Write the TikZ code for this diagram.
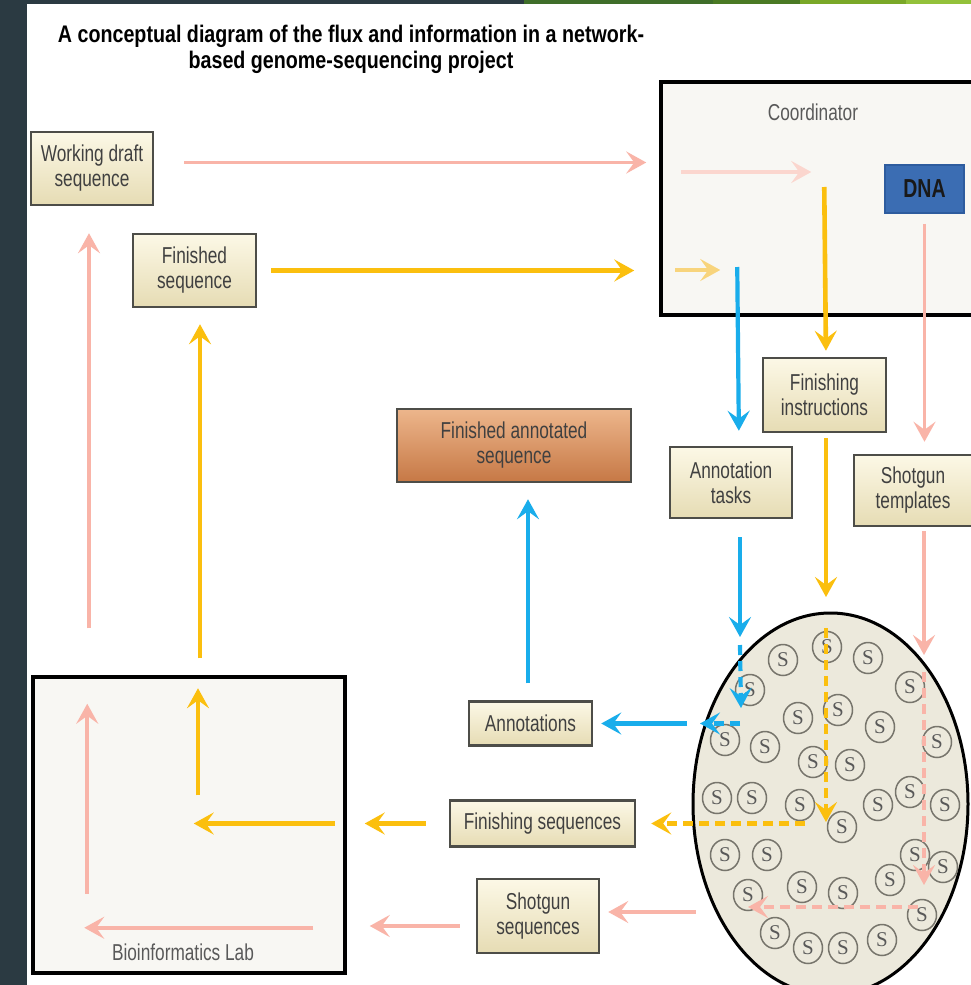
\documentclass[tikz,border=0pt]{standalone}
\usepackage{fontspec}
\setmainfont{Liberation Sans}
\newfontfamily\narrowsans[FakeStretch=0.75]{Liberation Sans}
\newfontfamily\titlesans[FakeStretch=0.82]{Liberation Sans}
\newfontfamily\seedserif{Liberation Serif}
\usetikzlibrary{arrows.meta,shapes.geometric,calc}

\definecolor{slate}{HTML}{2B3A42}
\definecolor{leafA}{HTML}{3F6E2A}
\definecolor{leafB}{HTML}{4A7A24}
\definecolor{leafC}{HTML}{7AA828}
\definecolor{leafD}{HTML}{93C13A}
\definecolor{pinkline}{HTML}{F9B4A8}
\definecolor{yellowline}{HTML}{FBBF0E}
\definecolor{blueline}{HTML}{19ADEB}
\definecolor{palepink}{HTML}{FBD6CE}
\definecolor{paleyellow}{HTML}{F8D47C}
\definecolor{boxtop}{HTML}{FCF8E6}
\definecolor{boxbot}{HTML}{E6DCB4}
\definecolor{boxedge}{HTML}{4D4D48}
\definecolor{labfill}{HTML}{F8F7F3}
\definecolor{dishfill}{HTML}{ECE9DC}
\definecolor{seedring}{HTML}{77756C}
\definecolor{dnafill}{HTML}{3B6DB3}
\definecolor{dnaedge}{HTML}{2E5C9E}
\definecolor{annottop}{HTML}{EDB68C}
\definecolor{annotbot}{HTML}{C67845}

\tikzset{
  seqbox/.style={draw=boxedge,line width=2.5pt,top color=boxtop,bottom color=boxbot,
    text=black!75,align=center,inner sep=0pt,font=\narrowsans\fontsize{23}{25}\selectfont},
  labbox/.style={draw=black,line width=3.5pt,fill=labfill,inner sep=0pt},
  boxname/.style={text=black!65,font=\narrowsans\fontsize{23}{25}\selectfont},
  seed/.style={ellipse,draw=seedring,line width=1.5pt,minimum width=29pt,minimum height=31pt,inner sep=0pt,
    text=black!65,font=\seedserif\fontsize{21}{21}\selectfont},
  flow/.style={line width=#1,-{Stealth[length=20pt,width=22pt,inset=8pt]}},
  pinkarr/.style={flow=3.8pt,draw=pinkline},
  yelarr/.style={flow=4.6pt,draw=yellowline},
  bluearr/.style={flow=4.2pt,draw=blueline},
  palepinkarr/.style={flow=4pt,draw=palepink},
  paleyelarr/.style={flow=4.6pt,draw=paleyellow},
  dashed/.style={dash pattern=on 10pt off 6pt}
}

\begin{document}
\begin{tikzpicture}[x=1pt,y=-1pt]
\useasboundingbox[fill=white] (0,0) rectangle (971,985);
\fill[slate] (0,0) rectangle (27,985);
\fill[slate] (27,0) rectangle (524,4);
\fill[leafA] (524,0) rectangle (713,4);
\fill[leafB] (713,0) rectangle (800,4);
\fill[leafC] (800,0) rectangle (906,4);
\fill[leafD] (906,0) rectangle (971,4);

\node[align=center,font=\titlesans\bfseries\fontsize{24}{26}\selectfont] (title) at (351,49)
  {A conceptual diagram of the flux and information in a network-\\based genome-sequencing project};

\node[seqbox,minimum width=122,minimum height=73] (draft) at (92,168.5) {Working draft\\sequence};
\node[seqbox,minimum width=123,minimum height=73] (finished) at (194.5,270.5) {Finished\\sequence};

\node[labbox,minimum width=319,minimum height=233] (coordinator) at (820.5,198.5) {};
\node[boxname] (coordname) at (813,112) {Coordinator};
\node[draw=dnaedge,line width=1.5pt,fill=dnafill,minimum width=79,minimum height=48,
  text=black!90,font=\narrowsans\bfseries\fontsize{26}{26}\selectfont] (dna) at (924.5,189) {DNA};

\node[seqbox,minimum width=123,minimum height=74] (instr) at (824.5,395) {Finishing\\instructions};
\node[seqbox,minimum width=122,minimum height=71] (tasks) at (731,482.5) {Annotation\\tasks};
\node[seqbox,minimum width=118,minimum height=71] (templates) at (913,490.5) {Shotgun\\templates};
\node[seqbox,top color=annottop,bottom color=annotbot,minimum width=234,minimum height=73] (annotated) at (514,445.5) {Finished annotated\\sequence};

\node[seqbox,minimum width=123,minimum height=44] (annots) at (530.5,723.5) {Annotations};
\node[seqbox,minimum width=185,minimum height=46] (finseqs) at (542.5,823.5) {Finishing sequences};
\node[seqbox,minimum width=122,minimum height=74] (shotseqs) at (538,916) {Shotgun\\sequences};

\node[labbox,minimum width=312,minimum height=296] (lab) at (189,825) {};
\node[boxname] (labname) at (183,952) {Bioinformatics Lab};

\node[ellipse,draw=black,line width=3pt,fill=dishfill,minimum width=275,minimum height=382,inner sep=0pt] (dish) at (830.5,804) {};
\foreach \sx/\sy [count=\i] in {783/660,827/647,868/658,910/687,750/690,798/718,838/710,880/727,
  937/742,725/740,765/747,813/762,850/765,717/798,752/798,800/805,878/805,910/792,945/805,
  842/827,725/855,767/855,915/855,943/867,890/880,802/887,843/893,748/895,922/915,775/933,
  808/948,843/948,882/940}
  \node[seed] (s\i) at (\sx,\sy) {S};

\coordinate (pinkx) at ($(draft.south)+(-3,0)$);
\coordinate (bluein) at (740,637);
\coordinate (yelin) at (826,597);
\coordinate (pinkin) at (924,655);

\draw[pinkarr,shorten <=30pt,shorten >=13pt] ($(draft.east)+(0,-6)$) -- ($(draft.east -| coordinator.west)+(0,-6)$);
\draw[yelarr,shorten <=14pt,shorten >=25pt] (finished.east) -- (finished.east -| coordinator.west);
\draw[palepinkarr] ($(coordinator.west)+(22,-26.5)$) -- ++(130,0);
\draw[paleyelarr] ($(coordinator.west)+(16,71.5)$) -- ++(45,0);

\draw[bluearr,shorten >=15pt] ($(coordinator.west)+(78,68.5)$) -- ($(tasks.north)+(8,0)$);
\draw[yelarr,shorten >=6pt] ($(coordinator.west)+(165,-11.5)$) -- ($(instr.north)+(1.5,0)$);
\draw[pinkarr,shorten <=10pt,shorten >=12pt] (dna.south) -- (dna.south |- templates.north);

\draw[bluearr,shorten <=18pt] ($(tasks.south)+(9,0)$) -- (bluein);
\draw[bluearr,dashed] ($(bluein)+(0,8)$) -- ($(bluein)+(1,71)$);
\draw[bluearr,dashed] (bluein |- annots.east) -- ++(-40,0);
\draw[bluearr,shorten <=53pt,shorten >=8pt] (bluein |- annots.east) -- (annots.east);
\draw[bluearr,shorten <=17pt,shorten >=16pt] ($(annots.north)+(-2.5,0)$) -- ($(annots.north |- annotated.south)+(-2.5,0)$);

\draw[yelarr,shorten <=5pt] ($(instr.south)+(1.5,0)$) -- (yelin);
\draw[yelarr,dashed] ($(yelin)+(0,31)$) -- ($(yelin)+(0,225)$);
\draw[yelarr,dashed,shorten >=15pt] ($(yelin |- finseqs.east)+(-21,0)$) -- (finseqs.east);
\draw[yelarr,shorten <=23pt,shorten >=18pt] (finseqs.west) -- (finseqs.west -| lab.east);
\draw[yelarr] ($(finseqs.west -| lab.east)+(-12,0)$) -- ++(-141,0);
\draw[yelarr] ($(lab.north)+(9,120)$) -- ($(lab.north)+(9,13)$);
\draw[yelarr,shorten <=17pt,shorten >=19pt] ($(lab.north)+(11,0)$) -- ($(lab.north -| finished.south)+(5.5,-370)$);

\draw[pinkarr,shorten <=4pt] ($(templates.south)+(11,0)$) -- (pinkin);
\draw[pinkarr,dashed] ($(pinkin)+(0,17)$) -- ($(pinkin)+(0,230)$);
\draw[pinkarr,dashed] ($(pinkin)+(-6,252)$) -- ++(-170,0);
\draw[pinkarr,shorten >=8pt] ($(shotseqs.east -| dish.west)+(4,-4)$) -- ($(shotseqs.east)+(0,-4)$);
\draw[pinkarr,shorten <=16pt,shorten >=23pt] ($(shotseqs.west)+(0,10)$) -- ($(shotseqs.west -| lab.east)+(0,10)$);
\draw[pinkarr] ($(lab.south west)+(282,-47)$) -- ($(lab.south west)+(53,-47)$);
\draw[pinkarr] ($(lab.south west)+(56,-81)$) -- ($(lab.south west)+(56,-271)$);
\draw[pinkarr,shorten <=47pt,shorten >=27pt] (pinkx |- lab.north) -- (pinkx);
\end{tikzpicture}
\end{document}
